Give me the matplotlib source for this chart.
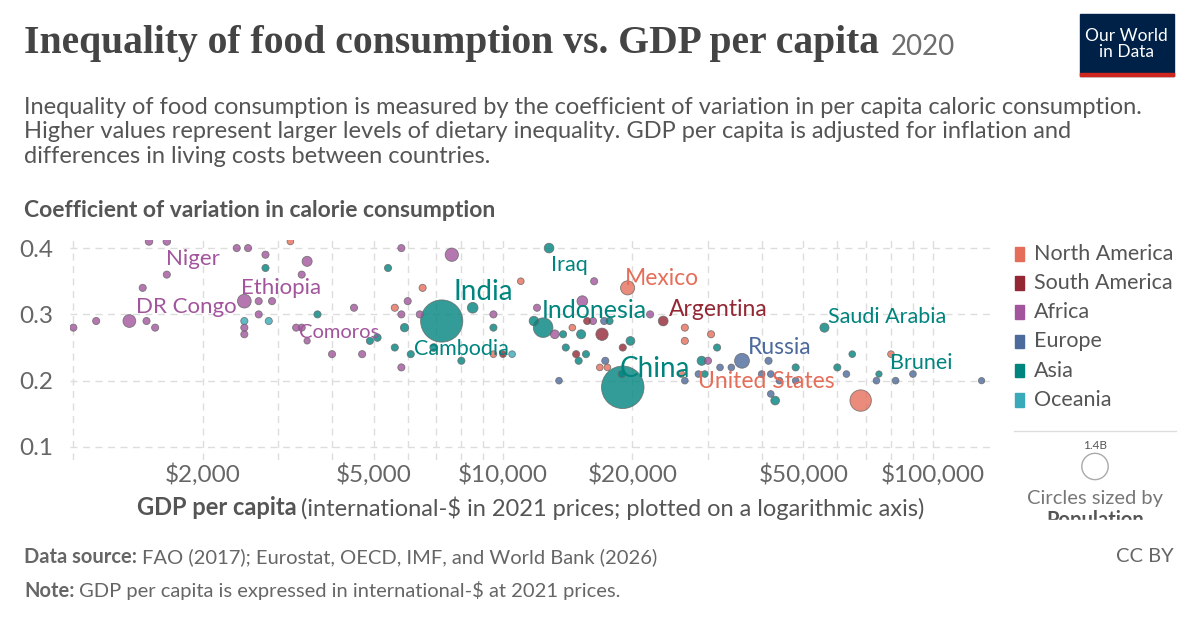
import matplotlib.pyplot as plt
from matplotlib.ticker import FixedLocator, NullFormatter
from matplotlib.patches import Rectangle, Ellipse
import numpy as np

plt.rcParams["font.family"] = ["Lato", "DejaVu Sans"]

REGION_COLORS = {
    "North America": "#E56E5A",
    "South America": "#932834",
    "Africa": "#A2559C",
    "Europe": "#4C6A9C",
    "Asia": "#00847E",
    "Oceania": "#38AABA",
}
R = {"NA": "North America", "SA": "South America", "AF": "Africa",
     "EU": "Europe", "AS": "Asia", "OC": "Oceania"}

# gdp per capita, coefficient of variation, region, population (millions)
gdp = [1500, 1650, 3200, 2400, 2550, 2800, 3500, 5800, 7600, 1650,
       2800, 3400, 5400, 1450, 6500, 11000, 2500, 2700, 2900, 4500,
       5600, 6000, 8500, 7200, 1350, 1130, 1480, 1000, 1550, 2500,
       2850, 2700, 3700, 2500, 2500, 3300, 3400, 3500, 5800, 6400,
       5900, 4900, 5100, 5600, 6100, 4000, 4700, 5800, 8000, 6900,
       9500, 9500, 9500, 10000, 10500, 12000,
       12800, 16300, 19500, 15300, 22000, 23600, 11800, 12400, 13200, 13800,
       14500, 15200, 17000, 15700, 16200, 17200, 17700, 26500, 30500, 26500,
       19800, 19000, 31500, 14000, 14800, 15600, 15000, 29000, 30000, 36000,
       41500, 17300, 16800, 17500, 32000, 34000, 48000, 60000, 65000, 56000,
       80000, 75000, 74000, 82000, 90000, 130000, 13500, 26000, 26500, 28500,
       29500, 40000, 42000, 44000, 43000, 42000, 68000, 19000, 18900, 48000,
       63000]
cv = [0.41, 0.41, 0.41, 0.40, 0.40, 0.39, 0.38, 0.40, 0.39, 0.36,
      0.37, 0.36, 0.37, 0.34, 0.34, 0.35, 0.32, 0.32, 0.32, 0.31,
      0.31, 0.32, 0.31, 0.29, 0.29, 0.29, 0.29, 0.28, 0.28, 0.29,
      0.29, 0.30, 0.30, 0.28, 0.27, 0.28, 0.28, 0.26, 0.30, 0.30,
      0.28, 0.26, 0.265, 0.25, 0.24, 0.24, 0.24, 0.22, 0.23, 0.25,
      0.28, 0.30, 0.24, 0.24, 0.24, 0.31,
      0.40, 0.35, 0.34, 0.32, 0.30, 0.29, 0.29, 0.28, 0.27, 0.27,
      0.28, 0.27, 0.27, 0.29, 0.29, 0.29, 0.29, 0.28, 0.27, 0.26,
      0.26, 0.25, 0.25, 0.25, 0.24, 0.24, 0.23, 0.23, 0.23, 0.23,
      0.23, 0.23, 0.22, 0.22, 0.22, 0.22, 0.22, 0.22, 0.24, 0.28,
      0.24, 0.21, 0.20, 0.20, 0.21, 0.20, 0.20, 0.21, 0.20, 0.21,
      0.21, 0.21, 0.21, 0.20, 0.17, 0.18, 0.17, 0.19, 0.21, 0.20,
      0.21]
region = ["AF", "AF", "NA", "AF", "AF", "AF", "AF", "AF", "AF", "AF",
          "AS", "AF", "AS", "AF", "NA", "NA", "AF", "AF", "AF", "AF",
          "NA", "AF", "AS", "AS", "AF", "AF", "AF", "AF", "AF", "OC",
          "OC", "AF", "AS", "AF", "AF", "AF", "AF", "AF", "AF", "AF",
          "AS", "AS", "AS", "AS", "AS", "AF", "AF", "AF", "AS", "AS",
          "AS", "AF", "NA", "SA", "OC", "AF",
          "AS", "AF", "NA", "AF", "AF", "SA", "AS", "AS", "AF", "AS",
          "NA", "AS", "SA", "SA", "AF", "EU", "AS", "NA", "NA", "NA",
          "AS", "SA", "AS", "AS", "SA", "AS", "AS", "AS", "AF", "EU",
          "EU", "EU", "NA", "NA", "EU", "EU", "AS", "AS", "AS", "AS",
          "NA", "AS", "EU", "EU", "EU", "EU", "EU", "NA", "EU", "EU",
          "AS", "EU", "EU", "EU", "AS", "EU", "NA", "AS", "AS", "EU",
          "EU"]
pop = [15, 15, 5, 10, 10, 10, 50, 10, 110, 10,
       10, 10, 10, 10, 10, 5, 120, 10, 10, 10,
       10, 10, 60, 1390, 100, 10, 10, 10, 10, 10,
       10, 10, 10, 10, 10, 10, 10, 1, 10, 10,
       25, 10, 15, 10, 10, 10, 10, 10, 10, 17,
       10, 10, 5, 5, 5, 10,
       44, 10, 128, 60, 10, 45, 40, 275, 30, 10,
       5, 35, 90, 10, 10, 10, 10, 10, 10, 10,
       30, 10, 10, 10, 10, 10, 10, 35, 10, 145,
       10, 10, 5, 5, 5, 5, 10, 10, 5, 35,
       5, 1, 5, 5, 5, 1, 5, 5, 5, 5,
       5, 5, 5, 5, 30, 5, 335, 1410, 10, 5,
       5]

labels = [
    ("Niger", 1640, 0.384, "Africa", 16),
    ("Ethiopia", 2450, 0.340, "Africa", 16),
    ("DR Congo", 1400, 0.311, "Africa", 16),
    ("Comoros", 3350, 0.273, "Africa", 14.5),
    ("India", 7650, 0.334, "Asia", 20),
    ("Cambodia", 6200, 0.248, "Asia", 15.5),
    ("Iraq", 12900, 0.375, "Asia", 15.5),
    ("Indonesia", 12300, 0.306, "Asia", 18),
    ("China", 18700, 0.218, "Asia", 20),
    ("Mexico", 19200, 0.354, "North America", 16.5),
    ("Argentina", 24300, 0.308, "South America", 16.5),
    ("Saudi Arabia", 57000, 0.296, "Asia", 15.5),
    ("Russia", 37200, 0.250, "Europe", 16.5),
    ("United States", 28500, 0.198, "North America", 16.5),
    ("Brunei", 79500, 0.227, "Asia", 15.5),
]

fig = plt.figure(figsize=(12, 6.27), dpi=100)
ax = fig.add_axes([0.058, 0.266, 0.767, 0.351])

colors = [REGION_COLORS[R[r]] for r in region]
sizes = [20 + p * 0.65 for p in pop]
order = np.argsort(sizes)[::-1]
ax.scatter(np.array(gdp)[order], np.array(cv)[order], s=np.array(sizes)[order],
           c=np.array(colors)[order], alpha=0.8, edgecolors="#666666",
           linewidths=0.6, zorder=3)

for name, x, y, reg, fs in labels:
    ax.text(x, y, name, color=REGION_COLORS[reg], fontsize=fs, zorder=4,
            va="center", ha="left")

ax.set_xscale("log")
ax.set_xlim(980, 136000)
ax.set_ylim(0.08, 0.412)
major = [2000, 5000, 10000, 20000, 50000, 100000]
ax.xaxis.set_major_locator(FixedLocator(major))
ax.set_xticklabels(["$2,000", "$5,000", "$10,000", "$20,000", "$50,000", "$100,000"])
minor = [m * 10 ** e for e in (3, 4, 5) for m in range(1, 10)]
ax.xaxis.set_minor_locator(FixedLocator([m for m in minor if m not in major]))
ax.xaxis.set_minor_formatter(NullFormatter())
ax.set_yticks([0.1, 0.2, 0.3, 0.4])
ax.set_yticklabels(["0.1", "0.2", "0.3", "0.4"])
ax.grid(True, which="both", axis="x", color="#dddddd", linestyle=(0, (5, 4)), linewidth=1)
ax.grid(True, which="major", axis="y", color="#dddddd", linestyle=(0, (5, 4)), linewidth=1)
ax.tick_params(axis="both", which="both", length=0, labelsize=17.5, labelcolor="#666666", pad=2)
ax.tick_params(axis="y", pad=12)
for s in ax.spines.values():
    s.set_visible(False)
ax.set_axisbelow(True)

renderer = fig.canvas.get_renderer()


def two_part(x, y, bold, rest, size, color, ha="left"):
    t1 = fig.text(x, y, bold, fontsize=size, fontweight="bold", color=color, va="center")
    w = t1.get_window_extent(renderer).width / fig.bbox.width
    t2 = fig.text(x + w + 0.004, y, rest, fontsize=size, color=color, va="center")
    if ha == "center":
        w2 = t2.get_window_extent(renderer).width / fig.bbox.width
        shift = (w + 0.004 + w2) / 2
        t1.set_x(x - shift)
        t2.set_x(x - shift + w + 0.004)


title = fig.text(0.02, 0.93, "Inequality of food consumption vs. GDP per capita", fontsize=28.5,
                 fontweight="bold", family=["Liberation Serif", "DejaVu Serif"],
                 color="#444444", va="center")
tw = title.get_window_extent(renderer).width / fig.bbox.width
fig.text(0.02 + tw + 0.01, 0.925, "2020", fontsize=20, color="#6e6e6e", va="center")
fig.text(0.02, 0.79, "Inequality of food consumption is measured by the coefficient of variation in per capita caloric consumption.\n"
         "Higher values represent larger levels of dietary inequality. GDP per capita is adjusted for inflation and\n"
         "differences in living costs between countries.", fontsize=17, color="#555555",
         va="center", linespacing=1.2)
fig.text(0.02, 0.664, "Coefficient of variation in calorie consumption", fontsize=16.5,
         fontweight="bold", color="#555555", va="center")
two_part(0.442, 0.19, "GDP per capita",
         "(international-$ in 2021 prices; plotted on a logarithmic axis)",
         17, "#555555", ha="center")

# logo
fig.patches.append(Rectangle((0.9, 0.878), 0.078, 0.1, transform=fig.transFigure,
                             color="#002147", zorder=5))
fig.patches.append(Rectangle((0.9, 0.878), 0.078, 0.006, transform=fig.transFigure,
                             color="#ce261e", zorder=6))
fig.text(0.939, 0.93, "Our World\nin Data", fontsize=12.5, color="white", ha="center",
         va="center", zorder=7, linespacing=1.0)

# legend
ly = 0.595
for reg, col in REGION_COLORS.items():
    fig.patches.append(Rectangle((0.846, ly - 0.011), 0.0075, 0.022,
                                 transform=fig.transFigure, color=col))
    fig.text(0.862, ly, reg, fontsize=15.5, color="#555555", va="center")
    ly -= 0.0465
fig.add_artist(plt.Line2D([0.845, 0.98], [0.313, 0.313], color="#dddddd", lw=1))
fig.add_artist(Ellipse((0.9125, 0.256), 0.022, 0.042, transform=fig.transFigure,
                       fill=False, ec="#aaaaaa", lw=1))
fig.text(0.9125, 0.289, "1.4B", fontsize=8.5, color="#555555", ha="center", va="center")
fig.text(0.9125, 0.205, "Circles sized by", fontsize=14.5, color="#777777", ha="center", va="center")
fig.text(0.9125, 0.17, "Population", fontsize=14.5, color="#555555", ha="center", va="center",
         fontweight="bold")
fig.patches.append(Rectangle((0.84, 0.155), 0.15, 0.015, transform=fig.transFigure,
                             color="white", zorder=10))

two_part(0.02, 0.112, "Data source:", "FAO (2017); Eurostat, OECD, IMF, and World Bank (2026)",
         14.5, "#666666")
two_part(0.02, 0.058, "Note:", "GDP per capita is expressed in international-$ at 2021 prices.",
         14.5, "#666666")
fig.text(0.978, 0.112, "CC BY", fontsize=14.5, color="#666666", va="center", ha="right")

fig.savefig("out.png", dpi=100)
